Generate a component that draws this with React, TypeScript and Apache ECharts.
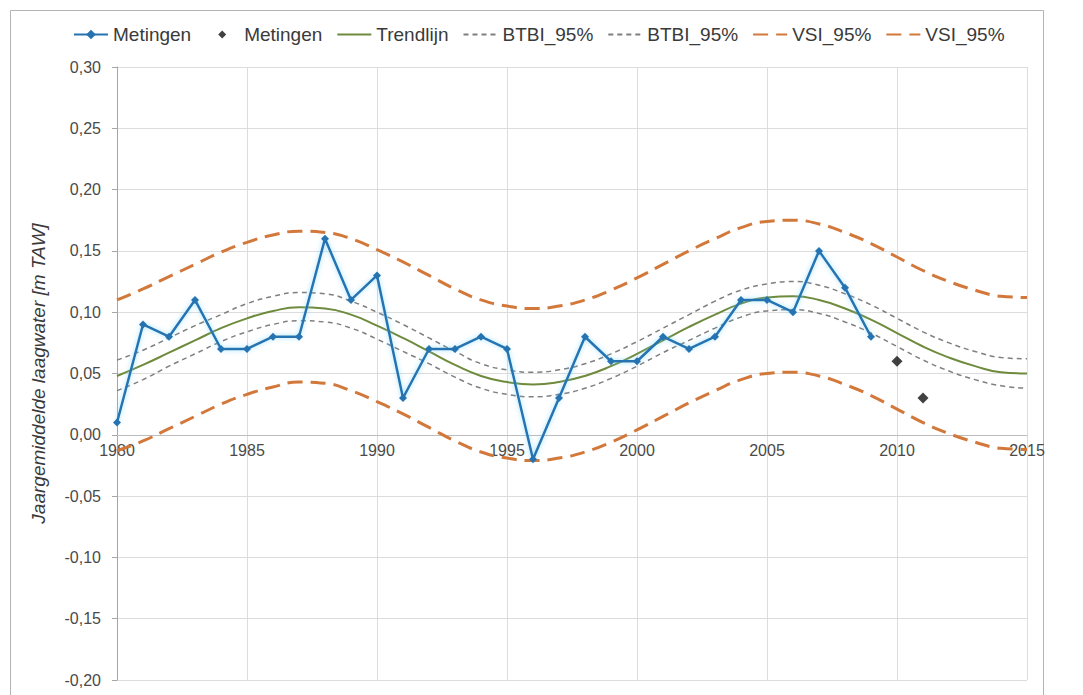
import React, { useEffect, useRef } from "react";
import * as echarts from "echarts";

const measYears = [1980, 1981, 1982, 1983, 1984, 1985, 1986, 1987, 1988, 1989, 1990, 1991, 1992, 1993, 1994, 1995, 1996, 1997, 1998, 1999, 2000, 2001, 2002, 2003, 2004, 2005, 2006, 2007, 2008, 2009];
const measValues = [0.01, 0.09, 0.08, 0.11, 0.07, 0.07, 0.08, 0.08, 0.16, 0.11, 0.13, 0.03, 0.07, 0.07, 0.08, 0.07, -0.02, 0.03, 0.08, 0.06, 0.06, 0.08, 0.07, 0.08, 0.11, 0.11, 0.10, 0.15, 0.12, 0.08];

const extraYears = [2010, 2011];
const extraValues = [0.06, 0.03];

const trendYears = [1980, 1981, 1982, 1983, 1984, 1985, 1986, 1987, 1988, 1989, 1990, 1991, 1992, 1993, 1994, 1995, 1996, 1997, 1998, 1999, 2000, 2001, 2002, 2003, 2004, 2005, 2006, 2007, 2008, 2009, 2010, 2011, 2012, 2013, 2014, 2015];
const trendValues = [0.048, 0.057, 0.067, 0.077, 0.087, 0.095, 0.101, 0.104, 0.103, 0.098, 0.089, 0.079, 0.068, 0.057, 0.048, 0.043, 0.041, 0.043, 0.048, 0.056, 0.066, 0.077, 0.088, 0.098, 0.107, 0.112, 0.113, 0.110, 0.103, 0.094, 0.083, 0.072, 0.063, 0.056, 0.051, 0.050];
const btbiUpper = [0.061, 0.069, 0.079, 0.089, 0.098, 0.107, 0.113, 0.116, 0.115, 0.109, 0.100, 0.090, 0.079, 0.068, 0.058, 0.053, 0.051, 0.053, 0.058, 0.066, 0.076, 0.087, 0.098, 0.109, 0.118, 0.123, 0.125, 0.122, 0.115, 0.106, 0.095, 0.084, 0.075, 0.068, 0.063, 0.062];
const btbiLower = [0.036, 0.045, 0.056, 0.066, 0.076, 0.084, 0.090, 0.093, 0.092, 0.087, 0.078, 0.068, 0.058, 0.047, 0.038, 0.033, 0.031, 0.033, 0.038, 0.046, 0.056, 0.067, 0.077, 0.087, 0.096, 0.101, 0.102, 0.099, 0.092, 0.083, 0.072, 0.061, 0.052, 0.045, 0.040, 0.038];
const vsiUpper = [0.110, 0.119, 0.129, 0.139, 0.149, 0.157, 0.163, 0.166, 0.165, 0.160, 0.151, 0.141, 0.130, 0.119, 0.110, 0.105, 0.103, 0.105, 0.110, 0.118, 0.128, 0.139, 0.150, 0.160, 0.169, 0.174, 0.175, 0.172, 0.165, 0.156, 0.145, 0.134, 0.125, 0.118, 0.113, 0.112];
const vsiLower = [-0.013, -0.005, 0.005, 0.015, 0.025, 0.033, 0.039, 0.043, 0.042, 0.036, 0.027, 0.017, 0.006, -0.005, -0.014, -0.019, -0.021, -0.019, -0.014, -0.006, 0.004, 0.015, 0.026, 0.036, 0.045, 0.050, 0.051, 0.048, 0.041, 0.032, 0.021, 0.010, 0.001, -0.006, -0.011, -0.012];

const yAxisTitle = "Jaargemiddelde laagwater [m TAW]";

const pair = (xs: number[], ys: number[]) => xs.map((x, i) => [x, ys[i]]);

const FONT = "'Liberation Sans', Arial, sans-serif";

export default function App() {
  const ref = useRef<HTMLDivElement>(null);
  useEffect(() => {
    if (!ref.current) return;
    const chart = echarts.init(ref.current, undefined, { renderer: "svg" });
    const lineBase = { type: "line", showSymbol: false, symbol: "none", smooth: true, z: 2 };
    const noMarker = { opacity: 0 };
    chart.setOption({
      animation: false,
      backgroundColor: "#ffffff",
      textStyle: { fontFamily: FONT },
      graphic: [
        {
          type: "rect",
          shape: { x: 10.5, y: 10.5, width: 1033, height: 700 },
          style: { fill: "none", stroke: "#b4b4b4", lineWidth: 1 },
          silent: true,
        },
      ],
      legend: {
        top: 20,
        left: 68,
        itemWidth: 34,
        itemHeight: 12,
        itemGap: 14,
        textStyle: { fontFamily: FONT, fontSize: 19, color: "#3a3a3a" },
        formatter: (name: string) => name.split("#")[0],
        data: [
          { name: "Metingen#1" },
          { name: "Metingen#2", icon: "path://M0,0M34,12M13,6L17,2L21,6L17,10Z" },
          { name: "Trendlijn", itemStyle: noMarker },
          { name: "BTBI_95%#1", itemStyle: noMarker },
          { name: "BTBI_95%#2", itemStyle: noMarker },
          { name: "VSI_95%#1", itemStyle: noMarker },
          { name: "VSI_95%#2", itemStyle: noMarker },
        ],
      },
      grid: { left: 117, right: 56, top: 67, bottom: 15, containLabel: false, outerBoundsMode: "none" },
      xAxis: {
        type: "value",
        min: 1980,
        max: 2015,
        interval: 5,
        offset: -245,
        axisLine: { onZero: false, lineStyle: { color: "#bdbdbd", width: 1 } },
        axisTick: { show: false },
        axisLabel: {
          margin: 7,
          fontFamily: FONT,
          fontSize: 16,
          color: "#4a4a4a",
          formatter: (v: number) => String(v),
        },
        splitLine: { show: true, lineStyle: { color: "#dcdcdc", width: 1 } },
      },
      yAxis: {
        type: "value",
        min: -0.2,
        max: 0.3,
        interval: 0.05,
        name: yAxisTitle,
        nameLocation: "middle",
        nameGap: 69,
        nameTextStyle: { fontFamily: FONT, fontSize: 19, fontStyle: "italic", color: "#3a3a3a" },
        axisLine: { show: true, onZero: false, lineStyle: { color: "#a6a6a6", width: 1 } },
        axisTick: { show: true, inside: false, length: 5, lineStyle: { color: "#a6a6a6" } },
        axisLabel: {
          margin: 16,
          fontFamily: FONT,
          fontSize: 16,
          color: "#4a4a4a",
          formatter: (v: number) => (Math.round(v * 100) / 100).toFixed(2).replace(".", ","),
        },
        splitLine: { show: true, lineStyle: { color: "#dcdcdc", width: 1 } },
      },
      series: [
        {
          name: "Metingen#1",
          type: "line",
          data: pair(measYears, measValues),
          symbol: "diamond",
          symbolSize: 8,
          showSymbol: true,
          itemStyle: { color: "#2673b2" },
          lineStyle: { color: "#2673b2", width: 2.5, shadowColor: "rgba(110,210,250,0.7)", shadowBlur: 5 },
          z: 5,
        },
        {
          name: "Metingen#2",
          type: "scatter",
          data: pair(extraYears, extraValues),
          symbol: "diamond",
          symbolSize: 11,
          itemStyle: { color: "#111111" },
          z: 6,
        },
        {
          ...lineBase,
          name: "Trendlijn",
          data: pair(trendYears, trendValues),
          itemStyle: { color: "#6e8b3d" },
          lineStyle: { color: "#6e8b3d", width: 2 },
        },
        {
          ...lineBase,
          name: "BTBI_95%#1",
          data: pair(trendYears, btbiUpper),
          itemStyle: { color: "#7f7f7f" },
          lineStyle: { color: "#7f7f7f", width: 1.5, type: [5, 4] },
        },
        {
          ...lineBase,
          name: "BTBI_95%#2",
          data: pair(trendYears, btbiLower),
          itemStyle: { color: "#7f7f7f" },
          lineStyle: { color: "#7f7f7f", width: 1.5, type: [5, 4] },
        },
        {
          ...lineBase,
          name: "VSI_95%#1",
          data: pair(trendYears, vsiUpper),
          itemStyle: { color: "#d2783a" },
          lineStyle: { color: "#d2783a", width: 3, type: [15, 8] },
        },
        {
          ...lineBase,
          name: "VSI_95%#2",
          data: pair(trendYears, vsiLower),
          itemStyle: { color: "#d2783a" },
          lineStyle: { color: "#d2783a", width: 3, type: [15, 8] },
        },
      ],
    });
    return () => chart.dispose();
  }, []);
  return (
    <div
      ref={ref}
      style={{ position: "fixed", left: 0, top: 0, width: 1083, height: 695, background: "#fff" }}
    />
  );
}
